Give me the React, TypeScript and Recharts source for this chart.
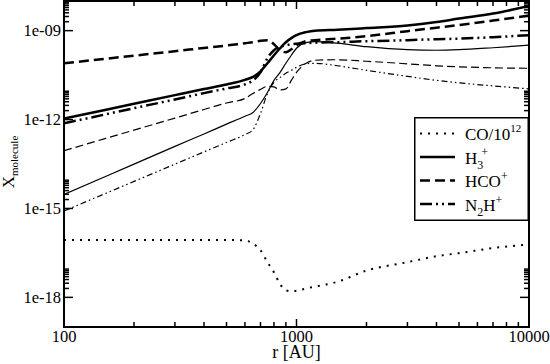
import React from "react";
import { LineChart, Line, XAxis, YAxis, ReferenceArea, Legend } from "recharts";

// radius grid [AU]
const radii = [100, 150, 200, 300, 400, 500, 600, 650, 700, 750, 800, 850, 900, 950, 1000, 1100, 1200, 1500, 2000, 3000, 4000, 5000, 7000, 10000];

// abundances
const coScaled = [8.7e-17, 8.7e-17, 8.7e-17, 8.7e-17, 8.7e-17, 8.7e-17, 8.3e-17, 6.5e-17, 3.9e-17, 1.54e-17, 7.0e-18, 2.8e-18, 1.73e-18, 1.6e-18, 1.66e-18, 2.0e-18, 2.3e-18, 3.35e-18, 8.0e-18, 1.54e-17, 2.45e-17, 3.1e-17, 4.6e-17, 6.1e-17];
const h3p = [1.08e-12, 2.11e-12, 3.4e-12, 6.67e-12, 1.07e-11, 1.53e-11, 2.18e-11, 2.76e-11, 4.24e-11, 7.91e-11, 1.48e-10, 2.55e-10, 4.07e-10, 5.57e-10, 7.03e-10, 8.89e-10, 1.0e-9, 1.08e-9, 1.22e-9, 1.48e-9, 1.94e-9, 2.55e-9, 3.77e-9, 6.77e-9];
const hcop = [7.91e-11, 1.12e-10, 1.43e-10, 2.02e-10, 2.61e-10, 3.15e-10, 3.77e-10, 4.07e-10, 4.58e-10, 4.76e-10, 3.48e-10, 2.18e-10, 1.87e-10, 2.36e-10, 3.22e-10, 4.41e-10, 4.76e-10, 5.36e-10, 6.51e-10, 9.62e-10, 1.26e-9, 1.54e-9, 2.18e-9, 3.22e-9];
const n2hp = [7.5e-13, 1.48e-12, 2.42e-12, 4.76e-12, 7.8e-12, 1.12e-11, 1.53e-11, 2.1e-11, 3.92e-11, 1.17e-10, 2.18e-10, 2.87e-10, 3.22e-10, 3.48e-10, 3.62e-10, 3.77e-10, 3.92e-10, 4.07e-10, 4.41e-10, 4.76e-10, 5.15e-10, 5.36e-10, 6.02e-10, 7.03e-10];
const h2dp = [2.99e-15, 1.18e-14, 3.13e-14, 1.24e-13, 3.27e-13, 6.98e-13, 1.29e-12, 1.73e-12, 3.48e-12, 8.22e-12, 2.1e-11, 3.92e-11, 7.91e-11, 1.48e-10, 2.55e-10, 3.92e-10, 4.24e-10, 3.77e-10, 2.87e-10, 2.27e-10, 2.18e-10, 2.27e-10, 2.65e-10, 3.22e-10];
const dcop = [8.89e-14, 2.27e-13, 4.41e-13, 1.12e-12, 2.18e-12, 3.62e-12, 5.15e-12, 7.6e-12, 1.04e-11, 1.32e-11, 1.26e-11, 1.0e-11, 1.08e-11, 2.1e-11, 3.92e-11, 7.91e-11, 1.0e-10, 1.04e-10, 9.25e-11, 7.6e-11, 6.52e-11, 6.03e-11, 5.57e-11, 5.36e-11];
const n2dp = [8.22e-16, 3.15e-15, 8.17e-15, 3.13e-14, 8.09e-14, 1.69e-13, 3.1e-13, 4.58e-13, 1.6e-12, 7.6e-12, 1.8e-11, 2.65e-11, 3.62e-11, 4.58e-11, 5.79e-11, 7.6e-11, 7.91e-11, 6.52e-11, 4.58e-11, 2.87e-11, 2.1e-11, 1.73e-11, 1.37e-11, 1.08e-11];

// ticks
const xMajorTicks = [100, 1000, 10000];
const xTickLabels = ["100", "1000", "10000"];
const xMinorTicks = [200, 300, 400, 500, 600, 700, 800, 900, 2000, 3000, 4000, 5000, 6000, 7000, 8000, 9000];
const yMajorTicks = [1e-18, 1e-15, 1e-12, 1e-9];
const yTickLabels = ["1e-18", "1e-15", "1e-12", "1e-09"];
const yMinorFactors = [2, 3, 4, 5, 6, 7, 8, 9];

const data = radii.map((r, i) => ({
  r,
  co: coScaled[i],
  h3p: h3p[i],
  hcop: hcop[i],
  n2hp: n2hp[i],
  h2dp: h2dp[i],
  dcop: dcop[i],
  n2dp: n2dp[i],
}));

const xTicks = [...xMajorTicks, ...xMinorTicks].sort((a, b) => a - b);
const yTicks = [
  ...yMajorTicks,
  ...yMajorTicks.flatMap((m) => yMinorFactors.map((k) => k * m)),
].sort((a, b) => a - b);

const SERIF = "'Liberation Serif', 'DejaVu Serif', serif";
const PLOT_W = 465;
const PLOT_H = 326;

const styles: Record<string, { width: number; dash?: string }> = {
  co: { width: 2, dash: "2 6" },
  h3p: { width: 2.5 },
  hcop: { width: 2.5, dash: "10 5" },
  n2hp: { width: 2.5, dash: "12 4 2 4 2 4" },
  h2dp: { width: 1.2 },
  dcop: { width: 1.2, dash: "8 4" },
  n2dp: { width: 1.2, dash: "6 3 1.5 3 1.5 3" },
};

const XTick = (props: any) => {
  const { x, y, payload } = props;
  const i = xMajorTicks.indexOf(payload.value);
  const len = i >= 0 ? 8 : 5;
  return (
    <g>
      <line x1={x} y1={y} x2={x} y2={y - len} stroke="#000" strokeWidth={1.5} />
      <line x1={x} y1={y - PLOT_H} x2={x} y2={y - PLOT_H + len} stroke="#000" strokeWidth={1.5} />
      {i >= 0 && (
        <text x={x} y={y + 15} textAnchor="middle" fontFamily={SERIF} fontSize={16.5} fill="#000">
          {xTickLabels[i]}
        </text>
      )}
    </g>
  );
};

const YTick = (props: any) => {
  const { x, y, payload } = props;
  const i = yMajorTicks.indexOf(payload.value);
  const len = i >= 0 ? 9 : 5;
  return (
    <g>
      <line x1={x} y1={y} x2={x + len} y2={y} stroke="#000" strokeWidth={1.5} />
      <line x1={x + PLOT_W} y1={y} x2={x + PLOT_W - len} y2={y} stroke="#000" strokeWidth={1.5} />
      {i >= 0 && (
        <text x={x - 3} y={y + 5.5} textAnchor="end" fontFamily={SERIF} fontSize={16.5} fill="#000">
          {yTickLabels[i]}
        </text>
      )}
    </g>
  );
};

const renderXLabel = (props: any) => {
  const vb = props.viewBox;
  return (
    <text x={vb.x + vb.width / 2} y={vb.y + 31} textAnchor="middle" fontFamily={SERIF} fontSize={18} style={{ fill: "#000" }}>
      r [AU]
    </text>
  );
};

const renderYLabel = (props: any) => {
  const vb = props.viewBox;
  const cx = vb.x + 14;
  const cy = vb.y + vb.height / 2 - 2;
  return (
    <text x={cx} y={cy} transform={`rotate(-90 ${cx} ${cy})`} textAnchor="middle" fontFamily={SERIF} fontSize={17} style={{ fill: "#000", stroke: "none" }}>
      X
      <tspan fontSize={11} dy={4}>molecule</tspan>
    </text>
  );
};

const legendRows = [
  { key: "co", label: <>CO/10<tspan fontSize={11} dy={-8}>12</tspan></> },
  { key: "h3p", label: <>H<tspan fontSize={12} dy={5}>3</tspan><tspan fontSize={12} dx={-2} dy={-13}>+</tspan></> },
  { key: "hcop", label: <>HCO<tspan fontSize={12} dy={-7}>+</tspan></> },
  { key: "n2hp", label: <>N<tspan fontSize={12} dy={5}>2</tspan><tspan dy={-5}>H</tspan><tspan fontSize={12} dy={-7}>+</tspan></> },
];

const LegendBox = () => (
  <svg width={115} height={104} style={{ display: "block" }}>
    <rect x={0.75} y={0.75} width={113.5} height={102.5} fill="#fff" stroke="#000" strokeWidth={1.5} />
    {legendRows.map((row, i) => {
      const cy = 16.5 + i * 23.5;
      const st = styles[row.key];
      return (
        <g key={row.key}>
          <line x1={6} y1={cy} x2={41} y2={cy} stroke="#000" strokeWidth={st.width} strokeDasharray={st.dash} />
          <text x={51} y={cy + 6.5} fontFamily={SERIF} fontSize={17} fill="#000">
            {row.label}
          </text>
        </g>
      );
    })}
  </svg>
);

const seriesOrder = ["dcop", "h2dp", "n2dp", "co", "hcop", "n2hp", "h3p"];

export default function App() {
  return (
    <div style={{ position: "absolute", left: 0, top: 0, background: "#fff" }}>
      <LineChart width={550} height={364} data={data} margin={{ top: 1, right: 21, bottom: 0, left: 0 }}>
        <XAxis
          dataKey="r"
          type="number"
          scale="log"
          domain={[100, 10000]}
          allowDataOverflow
          ticks={xTicks}
          interval={0}
          tickSize={0}
          tickMargin={0}
          tickLine={false}
          tick={(p: any) => <XTick {...p} />}
          axisLine={{ stroke: "#000", strokeWidth: 2 }}
          height={37}
          label={renderXLabel}
        />
        <YAxis
          type="number"
          scale="log"
          domain={[1e-19, 1e-8]}
          allowDataOverflow
          ticks={yTicks}
          interval={0}
          tickSize={0}
          tickMargin={0}
          tickLine={false}
          tick={(p: any) => <YTick {...p} />}
          axisLine={{ stroke: "#000", strokeWidth: 2 }}
          width={64}
          label={renderYLabel}
        />
        <ReferenceArea x1={100} x2={10000} y1={1e-19} y2={1e-8} fill="none" stroke="#000" strokeWidth={2} ifOverflow="visible" />
        {seriesOrder.map((key) => (
          <Line
            key={key}
            dataKey={key}
            type="monotone"
            stroke="#000"
            strokeWidth={styles[key].width}
            strokeDasharray={styles[key].dash}
            dot={false}
            activeDot={false}
            isAnimationActive={false}
          />
        ))}
        <Legend
          layout="horizontal"
          verticalAlign="middle"
          align="center"
          content={() => <LegendBox />}
          wrapperStyle={{ left: 414, top: 117, width: 115, height: 104 }}
        />
      </LineChart>
    </div>
  );
}
